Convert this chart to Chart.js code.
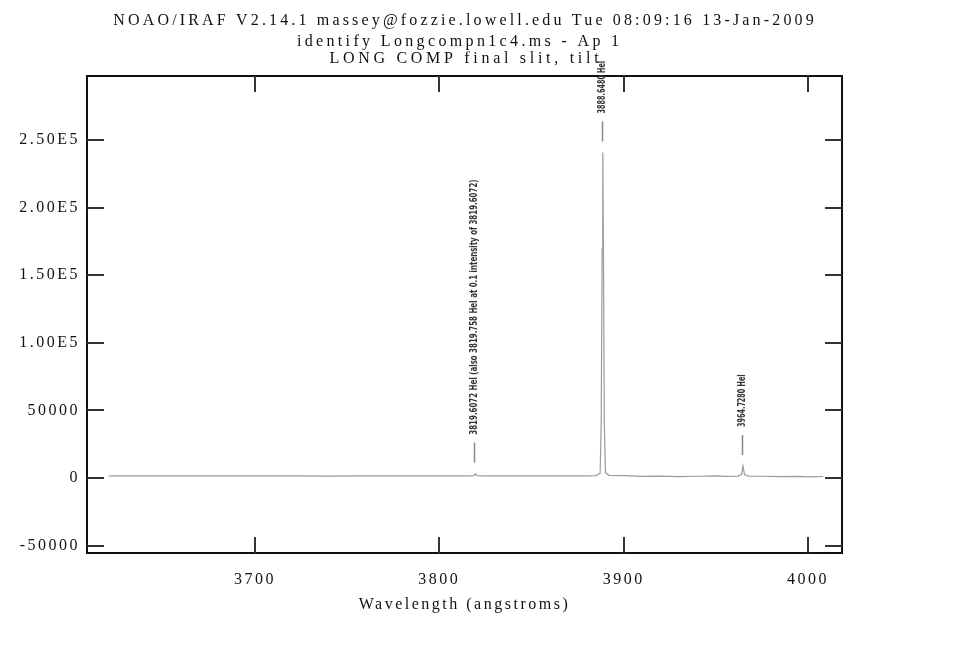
<!DOCTYPE html>
<html>
<head>
<meta charset="utf-8">
<script src="https://cdn.jsdelivr.net/npm/chart.js@4.4.1/dist/chart.umd.min.js"></script>
<style>
  html, body { margin: 0; padding: 0; background: #ffffff; }
  #wrap { width: 975px; height: 650px; }
</style>
</head>
<body>
<div id="wrap"><canvas id="c" width="975" height="650"></canvas></div>
<script>
// ---------- data ----------
const titleLines = [
  "NOAO/IRAF V2.14.1 massey@fozzie.lowell.edu Tue 08:09:16 13-Jan-2009",
  "identify Longcompn1c4.ms - Ap 1",
  "LONG COMP final slit, tilt"
];
const xAxisTitle = "Wavelength (angstroms)";

const wavelength = [3620.7, 3640, 3660, 3680, 3700, 3720, 3740, 3760, 3780, 3800,
  3815, 3818.8, 3819.6, 3820.4, 3825, 3840, 3860, 3870, 3880, 3885,
  3887.2, 3887.8, 3888.3, 3888.65, 3889.0, 3889.5, 3890.1, 3892, 3900, 3910,
  3920, 3930, 3940, 3950, 3955, 3962, 3963.9, 3964.7, 3965.5, 3967.5,
  3975, 3985, 3995, 4000, 4008.2];
const flux = [1500, 1600, 1500, 1550, 1500, 1500, 1450, 1500, 1550, 1500,
  1600, 1700, 3200, 1700, 1500, 1500, 1550, 1600, 1500, 1800,
  3500, 40000, 170000, 240800, 170000, 40000, 4000, 2000, 1800, 1200,
  1400, 1000, 1300, 1500, 1200, 1400, 2500, 8900, 2500, 1400,
  1300, 1000, 1200, 900, 1100];

const xTickValues = [3700, 3800, 3900, 4000];
const yTickValues = [-50000, 0, 50000, 100000, 150000, 200000, 250000];
const yTickLabels = ["-50000", "0", "50000", "1.00E5", "1.50E5", "2.00E5", "2.50E5"];

const lineWaves = [3819.6072, 3888.6480, 3964.7280];
const lineLabels = [
  "3819.6072 HeI (also 3819.758 HeI at 0.1 intensity of 3819.6072)",
  "3888.6480 HeI",
  "3964.7280 HeI"
];

// ---------- chart ----------
const FONT = "'Liberation Serif', 'DejaVu Serif', serif";
const points = wavelength.map((w, i) => ({ x: w, y: flux[i] }));

const iraf = {
  id: 'iraf',
  beforeDraw(chart) {
    chart.ctx.letterSpacing = '2.5px';
  },
  afterDraw(chart) {
    const ctx = chart.ctx;
    const a = chart.chartArea;
    const xs = chart.scales.x, ys = chart.scales.y;
    ctx.save();
    ctx.letterSpacing = '0px';
    // frame
    ctx.strokeStyle = '#111';
    ctx.lineWidth = 2;
    ctx.strokeRect(a.left, a.top, a.right - a.left, a.bottom - a.top);
    // inside ticks
    ctx.strokeStyle = '#333';
    ctx.lineWidth = 2;
    ctx.beginPath();
    xTickValues.forEach(v => {
      const px = Math.round(xs.getPixelForValue(v));
      ctx.moveTo(px, a.bottom); ctx.lineTo(px, a.bottom - 16);
      ctx.moveTo(px, a.top); ctx.lineTo(px, a.top + 16);
    });
    yTickValues.forEach(v => {
      const py = Math.round(ys.getPixelForValue(v));
      ctx.moveTo(a.left, py); ctx.lineTo(a.left + 17, py);
      ctx.moveTo(a.right, py); ctx.lineTo(a.right - 17, py);
    });
    ctx.stroke();

    // line identifications
    lineWaves.forEach((w, i) => {
      let peak = -Infinity;
      wavelength.forEach((ww, j) => { if (Math.abs(ww - w) < 1.2) peak = Math.max(peak, flux[j]); });
      const px = Math.round(xs.getPixelForValue(w)) - 0.5;
      const py = ys.getPixelForValue(peak);
      const markBottom = py - 11, markTop = py - 31;
      ctx.strokeStyle = '#888';
      ctx.lineWidth = 1.5;
      ctx.beginPath();
      ctx.moveTo(px, markBottom); ctx.lineTo(px, markTop);
      ctx.stroke();
      // rotated label
      const txt = lineLabels[i];
      ctx.save();
      ctx.font = "bold 10px 'DejaVu Sans', sans-serif";
      const wText = ctx.measureText(txt).width;
      const target = txt.length * 4.05;
      ctx.translate(px, markTop - 8);
      ctx.rotate(-Math.PI / 2);
      ctx.scale(target / wText, 1);
      ctx.fillStyle = '#333';
      ctx.textAlign = 'left';
      ctx.textBaseline = 'middle';
      ctx.fillText(txt, 0, 0);
      ctx.restore();
    });

    // title lines
    ctx.fillStyle = '#111';
    ctx.font = "16px " + FONT;
    ctx.textAlign = 'center';
    ctx.textBaseline = 'alphabetic';
    const centers = [463.5, 458, 464];
    const baselines = [25, 46, 63];
    titleLines.forEach((t, i) => {
      ctx.letterSpacing = '0px';
      const w0 = ctx.measureText(t).width;
      const sp = (t.length * 10.5 - w0) / t.length;
      ctx.letterSpacing = sp.toFixed(2) + 'px';
      ctx.fillText(t, centers[i] + sp / 2, baselines[i]);
    });
    ctx.restore();
  }
};

new Chart(document.getElementById('c'), {
  type: 'line',
  data: {
    datasets: [{
      label: 'Longcompn1c4.ms - Ap 1',
      data: points,
      borderColor: '#9a9a9a',
      borderWidth: 1.2,
      pointRadius: 0,
      tension: 0,
      fill: false
    }]
  },
  options: {
    responsive: false,
    animation: false,
    parsing: true,
    layout: { padding: { left: 0, right: 133, top: 76, bottom: 0 } },
    plugins: {
      legend: { display: false },
      title: { display: false },
      tooltip: { enabled: false }
    },
    scales: {
      x: {
        type: 'linear',
        min: 3608.9,
        max: 4018.4,
        afterFit(scale) { scale.height = 97; },
        afterBuildTicks(scale) { scale.ticks = xTickValues.map(v => ({ value: v })); },
        grid: { display: false, drawTicks: false },
        border: { display: false },
        ticks: {
          color: '#111',
          padding: 17,
          maxRotation: 0,
          autoSkip: false,
          font: { family: FONT, size: 16 },
          callback: (v) => String(v)
        },
        title: {
          display: true,
          text: xAxisTitle,
          color: '#111',
          font: { family: FONT, size: 16 },
          padding: { top: 0, bottom: 36 }
        }
      },
      y: {
        type: 'linear',
        min: -55470,
        max: 297300,
        afterFit(scale) { scale.width = 87; },
        afterBuildTicks(scale) { scale.ticks = yTickValues.map(v => ({ value: v })); },
        grid: { display: false, drawTicks: false },
        border: { display: false },
        ticks: {
          color: '#111',
          padding: 7,
          autoSkip: false,
          font: { family: FONT, size: 16 },
          callback: (v) => {
            const k = yTickValues.indexOf(v);
            return k >= 0 ? yTickLabels[k] : '';
          }
        }
      }
    }
  },
  plugins: [iraf]
});
</script>
</body>
</html>
